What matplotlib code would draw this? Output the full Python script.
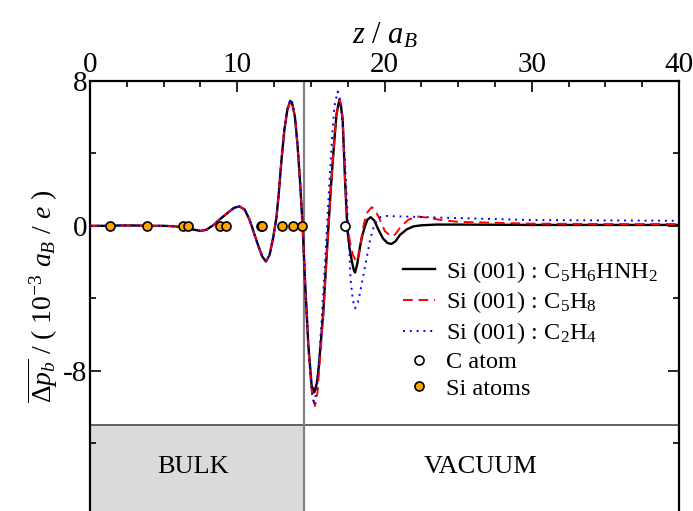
import matplotlib
matplotlib.use('Agg')
import matplotlib.pyplot as plt
from matplotlib.patches import Rectangle

plt.rcParams['font.family'] = 'Liberation Serif'
plt.rcParams['mathtext.fontset'] = 'custom'
plt.rcParams['mathtext.rm'] = 'Liberation Serif'
plt.rcParams['mathtext.it'] = 'Liberation Serif:italic'
plt.rcParams['axes.unicode_minus'] = False

# Si(001):C5H6HNH2
z_k = [0, 1, 2, 3, 4, 5, 5.8, 6.4, 6.8, 7.1, 7.5, 7.9, 8.4, 8.8, 9.1, 9.5, 9.8, 10.15,
       10.5, 10.8, 11.0, 11.2, 11.45, 11.7, 11.95, 12.2, 12.45, 12.65, 12.8, 13.0, 13.2,
       13.4, 13.6, 13.75, 13.92, 14.1, 14.26, 14.44, 14.6, 14.83, 15.05, 15.23, 15.4,
       15.5, 15.65, 15.84, 16.0, 16.18, 16.35, 16.48, 16.62, 16.75, 16.93, 17.05, 17.16,
       17.32, 17.48, 17.62, 17.77, 17.9, 18.0, 18.15, 18.34, 18.5, 18.68, 18.85, 19.06,
       19.3, 19.58, 19.9, 20.2, 20.48, 20.75, 21.05, 21.5, 21.96, 22.5, 23.5, 25, 30, 35, 40]
p_k = [0, 0, 0.02, 0.02, 0, 0, -0.03, -0.1, -0.15, -0.22, -0.28, -0.22, 0.05, 0.35, 0.55,
       0.82, 1.0, 1.07, 0.9, 0.4, -0.05, -0.55, -1.15, -1.7, -1.97, -1.6, -0.6, 0.4, 1.6,
       3.6, 5.3, 6.4, 6.9, 6.7, 6.0, 4.4, 2.5, 0.0, -3.0, -6.6, -8.8, -9.2, -8.7, -8.1,
       -6.7, -4.8, -2.6, -0.2, 2.0, 3.5, 5.0, 6.2, 6.95, 6.6, 5.85, 2.5, -0.2, -1.2, -1.9,
       -2.4, -2.58, -2.1, -1.14, -0.5, 0.0, 0.35, 0.48, 0.3, -0.2, -0.7, -0.95, -1.0, -0.85,
       -0.5, -0.2, -0.03, 0.03, 0.07, 0.07, 0.05, 0.05, 0.05]

# Si(001):C5H8
z_r = [0, 1, 2, 3, 4, 5, 5.8, 6.4, 6.8, 7.1, 7.5, 7.9, 8.4, 8.8, 9.1, 9.5, 9.8, 10.15,
       10.5, 10.8, 11.0, 11.2, 11.45, 11.7, 11.95, 12.2, 12.45, 12.65, 12.8, 13.0, 13.2,
       13.4, 13.6, 13.75, 13.92, 14.1, 14.26, 14.44, 14.6, 14.83, 15.05, 15.28, 15.45,
       15.65, 15.84, 16.0, 16.18, 16.35, 16.48, 16.62, 16.75, 16.95, 17.05, 17.16, 17.32,
       17.48, 17.66, 17.85, 18.1, 18.28, 18.45, 18.6, 18.79, 19.13, 19.35, 19.58, 20.03,
       20.48, 20.75, 21.05, 21.6, 22.19, 23.0, 23.77, 25, 30, 35, 40]
p_r = [0, 0, 0.02, 0.02, 0, 0, -0.03, -0.1, -0.15, -0.22, -0.28, -0.22, 0.05, 0.35, 0.55,
       0.82, 1.0, 1.07, 0.9, 0.4, -0.05, -0.55, -1.15, -1.7, -1.97, -1.6, -0.6, 0.4, 1.6,
       3.6, 5.3, 6.4, 6.9, 6.7, 6.0, 4.4, 2.5, 0.0, -3.0, -6.8, -9.1, -9.95, -9.2, -7.0,
       -4.9, -2.7, -0.3, 2.0, 3.5, 5.0, 6.2, 7.0, 6.7, 5.9, 2.6, 0.0, -0.9, -1.6, -2.0,
       -1.5, -0.6, 0.1, 0.7, 1.03, 0.9, 0.52, -0.3, -0.59, -0.45, -0.1, 0.33, 0.52, 0.45,
       0.33, 0.22, 0.12, 0.1, 0.1]

# Si(001):C2H4
z_b = [0, 1, 2, 3, 4, 5, 5.8, 6.4, 6.8, 7.1, 7.5, 7.9, 8.4, 8.8, 9.1, 9.5, 9.8, 10.15,
       10.5, 10.8, 11.0, 11.2, 11.45, 11.7, 11.95, 12.2, 12.45, 12.65, 12.8, 13.0, 13.2,
       13.4, 13.62, 13.75, 13.92, 14.1, 14.26, 14.44, 14.6, 14.83, 15.05, 15.21, 15.4,
       15.55, 15.7, 15.84, 16.0, 16.15, 16.3, 16.45, 16.6, 16.82, 17.0, 17.16, 17.32,
       17.54, 17.7, 17.85, 18.0, 18.17, 18.34, 18.68, 19.02, 19.25, 19.47, 19.75, 20.03,
       21, 22, 24, 30, 35, 40]
p_b = [0, 0, 0.02, 0.02, 0, 0, -0.03, -0.1, -0.15, -0.22, -0.28, -0.22, 0.05, 0.35, 0.55,
       0.82, 1.0, 1.07, 0.9, 0.4, -0.05, -0.55, -1.15, -1.7, -1.97, -1.6, -0.6, 0.4, 1.6,
       3.6, 5.3, 6.45, 7.0, 6.8, 6.0, 4.4, 2.5, 0.0, -3.0, -6.8, -9.1, -9.9, -9.0, -7.5,
       -5.6, -3.7, -1.5, 0.8, 3.0, 5.0, 6.6, 7.42, 6.9, 5.5, 3.47, -0.2, -3.0, -4.1, -4.55,
       -4.3, -3.7, -2.25, -0.77, -0.1, 0.33, 0.5, 0.55, 0.52, 0.5, 0.45, 0.32, 0.3, 0.28]

z_si = [1.36, 3.9, 6.34, 6.68, 8.83, 9.25, 11.6, 11.7, 13.06, 13.77, 14.4]
z_c = [17.35]

fig = plt.figure(figsize=(6.93, 5.11), dpi=100)
ax = fig.add_axes([90/693, 0, 589/693, 430/511])

ax.add_patch(Rectangle((0, -16), 14.5, 5.0, facecolor='#dadada', edgecolor='none', zorder=0))
ax.axhline(-11.0, color='#555555', lw=1.3, zorder=1)
ax.axvline(14.5, color='#808080', lw=1.6, zorder=1)

ax.plot(z_k, p_k, color='black', lw=1.7, label=r'Si (001) : C$_5$H$_6$HNH$_2$', zorder=3)
ax.plot(z_r, p_r, color='red', lw=1.4, ls=(0, (5, 3)), label=r'Si (001) : C$_5$H$_8$', zorder=4)
ax.plot(z_b, p_b, color='blue', lw=1.4, ls=(0, (1, 2.5)), label=r'Si (001) : C$_2$H$_4$', zorder=5)
ax.plot(z_c, [0]*len(z_c), 'o', ms=6.5, mfc='white', mec='black', mew=1.2, ls='none',
        label='C atom', zorder=6)
ax.plot(z_si, [0]*len(z_si), 'o', ms=6.5, mfc='#ffa500', mec='black', mew=1.2, ls='none',
        label='Si atoms', zorder=6)

ax.text(7.0, -13.3, 'BULK', fontsize=19, ha='center', va='center')
ax.text(26.5, -13.3, 'VACUUM', fontsize=19, ha='center', va='center')

ax.set_xlim(0, 40)
ax.set_ylim(-15.75, 8)
ax.set_xticks([0, 10, 20, 30, 40])
ax.set_xticks([2.5 * i for i in range(17)], minor=True)
ax.set_yticks([-8, 0, 8])
ax.set_yticks([-12, -4, 4], minor=True)
ax.xaxis.tick_top()
ax.xaxis.set_label_position('top')
ax.tick_params(which='both', direction='in', top=True, bottom=False, left=True, right=True,
               labeltop=True, labelbottom=False, labelsize=21, width=1.2, pad=2)
ax.tick_params(which='major', length=8)
ax.tick_params(which='minor', length=4)
ax.spines['bottom'].set_visible(False)
for s in ['top', 'left', 'right']:
    ax.spines[s].set_linewidth(1.6)

ax.set_xlabel(r'$z$ / $a_B$', fontsize=22, labelpad=6)
ax.set_ylabel(r'$\overline{\Delta p_b}$ / ( 10$^{-3}$ $a_B$ / $e$ )', fontsize=20, labelpad=2)

ax.legend(loc='upper left', bbox_to_anchor=(0.51, 0.615), frameon=False, fontsize=17.5,
          handlelength=1.35, handletextpad=0.45, labelspacing=0.2, borderpad=0)

fig.savefig('out.png', dpi=100)
